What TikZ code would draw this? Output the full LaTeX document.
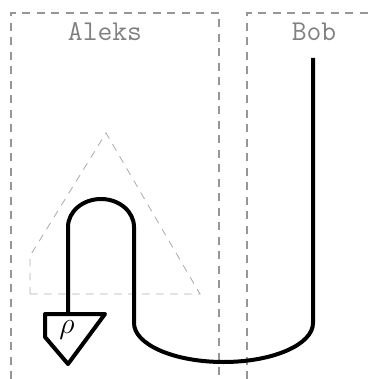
\documentclass[tikz,border=0pt]{standalone}
\usepackage{amsmath,amssymb}
\usepackage[dvipsnames,svgnames,x11names]{xcolor}
\definecolor{boxline}{RGB}{150, 150, 150}
\definecolor{stateline}{RGB}{175, 175, 175}
\definecolor{partytext}{RGB}{128, 128, 128}
\usepackage{tikz}
\usetikzlibrary{calc}

\tikzset{
  party/.style={draw=boxline, dash pattern=on 3.2pt off 2.6pt, line width=0.45pt},
  partylabel/.style={text=partytext, font=\fontsize{11.5}{14}\selectfont\ttfamily},
  wire/.style={line width=1.6pt, line join=round},
  groupstate/.style={draw=stateline, dash pattern=on 3pt off 2.6pt, line width=0.35pt}
}

\begin{document}
\begin{tikzpicture}[x=0.4pt, y=-0.4pt]
    \useasboundingbox (0,0) rectangle (373,379);

    % parties
    \draw[party] (11,379) -- (11,13) -- (219,13) -- (219,379);
    \draw[party] (247,379) -- (247,13) -- (373,13);
    \node[partylabel] (aleks) at (105,32) {Aleks};
    \node[partylabel] (bob) at (314,32) {Bob};

    % dashed group around the cap
    \draw[groupstate] (30,294) -- (200,294) -- (106,133) -- (30,256) -- cycle;

    % state
    \coordinate (S) at (68,314);
    \draw[wire] (45,314) -- (105,314) -- (68,364) -- (45,337) -- cycle;
    \node (rho) at (67,330) {\fontsize{12.5}{15}\selectfont$\rho$};

    % wire
    \coordinate (B) at (313,58);
    \draw[wire] (S) -- (68,227)
        arc[start angle=180, end angle=360, x radius=33, y radius=28]
        -- (134,323)
        arc[start angle=180, end angle=0, x radius=89.5, y radius=39]
        -- (B);
\end{tikzpicture}
\end{document}
